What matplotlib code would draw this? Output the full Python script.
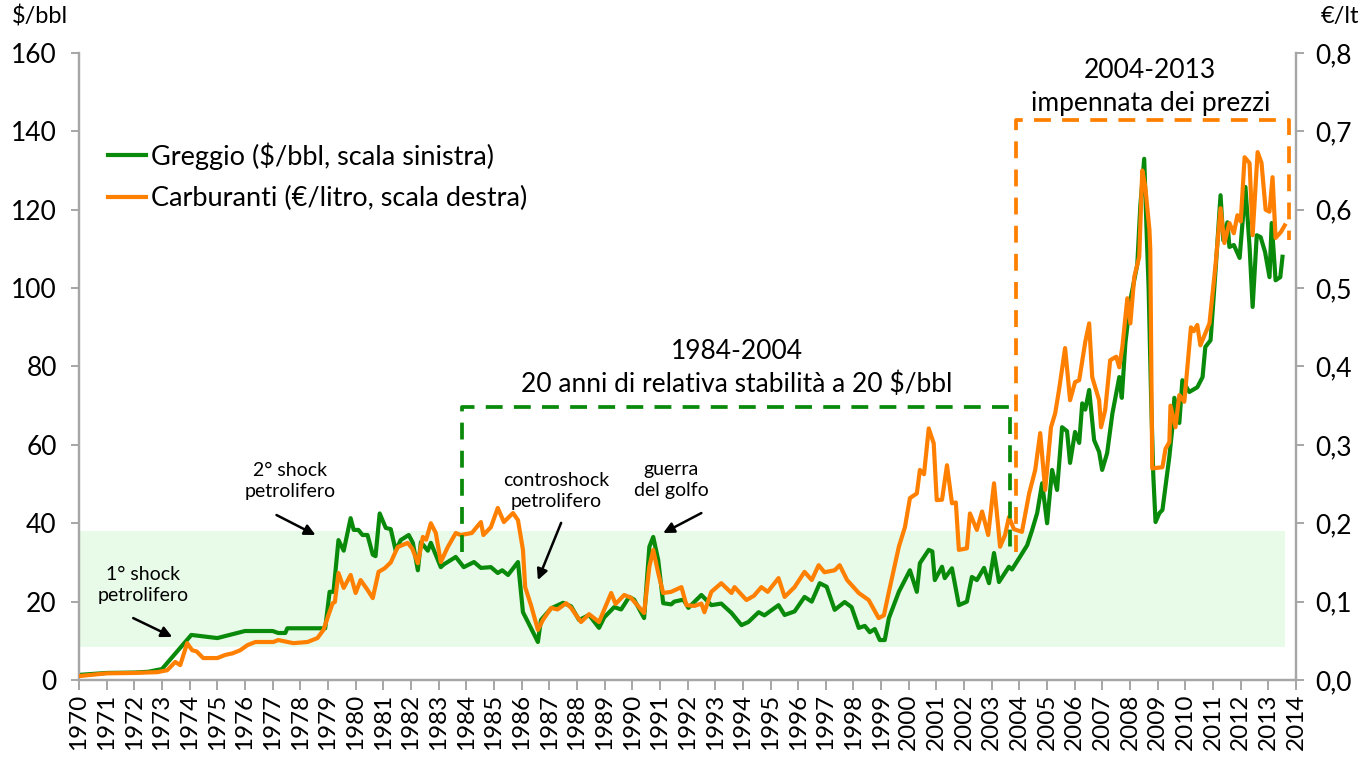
import matplotlib
matplotlib.use("Agg")
import matplotlib.pyplot as plt
from matplotlib.transforms import ScaledTranslation

plt.rcParams["font.family"] = ["Lato", "DejaVu Sans"]

GREEN = "#0a8a0a"
ORANGE = "#ff8000"
GRAY = "#a6a6a6"
BAND = "#e8fae8"

# crude oil, $/bbl (left scale)
greggio_anni = [
    1970.00, 1971.00, 1972.00, 1972.50, 1973.00, 1974.06, 1975.00, 1976.00, 1977.00, 1977.20,
    1977.46, 1977.53, 1978.90, 1979.06, 1979.20, 1979.38, 1979.57, 1979.82, 1979.93, 1980.10,
    1980.25, 1980.43, 1980.62, 1980.72, 1980.87, 1981.09, 1981.27, 1981.45, 1981.63, 1981.92,
    1982.07, 1982.25, 1982.36, 1982.61, 1982.72, 1983.08, 1983.19, 1983.62, 1983.91, 1984.28,
    1984.53, 1984.89, 1985.14, 1985.30, 1985.51, 1985.87, 1986.05, 1986.23, 1986.59, 1986.70,
    1987.07, 1987.50, 1987.79, 1988.08, 1988.44, 1988.80, 1988.99, 1989.35, 1989.60, 1989.89,
    1990.07, 1990.43, 1990.62, 1990.76, 1990.94, 1991.12, 1991.41, 1991.52, 1991.85, 1992.03,
    1992.50, 1992.86, 1993.22, 1993.59, 1993.95, 1994.20, 1994.57, 1994.78, 1995.29, 1995.51,
    1995.87, 1996.23, 1996.49, 1996.78, 1997.03, 1997.32, 1997.68, 1997.93, 1998.19, 1998.41,
    1998.59, 1998.77, 1998.95, 1999.13, 1999.28, 1999.64, 1999.86, 2000.04, 2000.29, 2000.40,
    2000.72, 2000.85, 2000.94, 2001.20, 2001.30, 2001.56, 2001.81, 2002.10, 2002.28, 2002.46,
    2002.72, 2002.90, 2003.08, 2003.26, 2003.62, 2003.73, 2003.99, 2004.28, 2004.46, 2004.64,
    2004.82, 2005.00, 2005.18, 2005.36, 2005.54, 2005.72, 2005.83, 2006.01, 2006.16, 2006.27,
    2006.38, 2006.52, 2006.70, 2006.88, 2006.99, 2007.17, 2007.36, 2007.61, 2007.70, 2007.83,
    2008.01, 2008.26, 2008.37, 2008.51, 2008.59, 2008.67, 2008.76, 2008.84, 2008.92, 2009.06,
    2009.17, 2009.42, 2009.53, 2009.60, 2009.78, 2009.89, 2010.14, 2010.43, 2010.62, 2010.72,
    2010.91, 2011.09, 2011.27, 2011.37, 2011.52, 2011.59, 2011.75, 2011.96, 2012.17, 2012.32,
    2012.43, 2012.58, 2012.72, 2012.88, 2013.04, 2013.12, 2013.26, 2013.43, 2013.51,
]
greggio = [
    1.3, 1.8, 1.9, 2.1, 2.8, 11.5, 10.7, 12.5, 12.5, 12.0,
    12.0, 13.2, 13.2, 22.5, 22.5, 35.7, 33.0, 41.3, 38.3, 38.3,
    37.0, 37.0, 32.0, 31.6, 42.5, 38.8, 38.5, 33.0, 35.7, 37.0,
    35.0, 28.0, 35.2, 33.0, 35.0, 28.8, 29.5, 31.4, 28.8, 30.1,
    28.6, 28.8, 27.3, 28.0, 26.8, 30.1, 17.3, 14.8, 9.7, 15.3,
    18.3, 19.7, 18.8, 15.3, 16.6, 13.3, 16.0, 18.6, 18.0, 21.2,
    20.5, 15.8, 34.0, 36.5, 30.6, 19.6, 19.3, 20.0, 20.5, 18.4,
    21.7, 19.1, 19.5, 17.1, 14.0, 14.8, 17.3, 16.5, 19.1, 16.6,
    17.5, 21.2, 20.0, 24.7, 23.8, 17.9, 19.9, 18.6, 13.3, 13.8,
    12.2, 13.0, 10.2, 10.2, 15.8, 22.5, 25.5, 28.0, 22.5, 29.8,
    33.2, 32.8, 25.5, 28.9, 26.0, 28.5, 19.1, 20.0, 26.3, 25.5,
    28.6, 24.7, 32.4, 25.0, 28.9, 28.2, 31.1, 34.4, 38.3, 42.6,
    50.2, 40.0, 53.6, 48.5, 64.5, 63.5, 55.4, 63.3, 60.5, 70.6,
    69.0, 74.0, 61.2, 58.2, 53.6, 57.9, 68.0, 77.3, 72.0, 86.0,
    97.0, 106.0, 121.0, 133.0, 116.0, 100.0, 72.0, 52.0, 40.3, 42.6,
    43.4, 57.0, 64.5, 72.0, 65.6, 76.5, 73.5, 74.7, 77.3, 85.0,
    86.7, 104.6, 123.7, 112.2, 116.8, 110.5, 111.0, 107.7, 125.8, 110.5,
    95.2, 113.5, 113.0, 109.2, 102.8, 116.6, 102.0, 102.8, 108.0,
]

# fuels, EUR/litre (right scale)
carburanti_anni = [
    1970.00, 1971.00, 1972.00, 1972.83, 1973.19, 1973.48, 1973.66, 1973.91, 1974.09, 1974.25,
    1974.49, 1975.00, 1975.29, 1975.55, 1975.83, 1976.09, 1976.38, 1977.03, 1977.20, 1977.75,
    1978.26, 1978.62, 1978.84, 1979.02, 1979.17, 1979.25, 1979.38, 1979.57, 1979.82, 1980.00,
    1980.18, 1980.43, 1980.62, 1980.83, 1981.05, 1981.27, 1981.52, 1981.88, 1982.05, 1982.25,
    1982.43, 1982.55, 1982.72, 1982.90, 1983.08, 1983.33, 1983.62, 1983.80, 1984.20, 1984.53,
    1984.62, 1984.89, 1985.14, 1985.36, 1985.69, 1985.87, 1986.05, 1986.13, 1986.34, 1986.59,
    1986.77, 1987.07, 1987.30, 1987.61, 1987.79, 1988.15, 1988.44, 1988.80, 1989.24, 1989.40,
    1989.71, 1989.95, 1990.43, 1990.62, 1990.76, 1990.94, 1991.12, 1991.41, 1991.78, 1991.96,
    1992.25, 1992.50, 1992.61, 1992.86, 1993.22, 1993.59, 1993.70, 1994.13, 1994.40, 1994.67,
    1994.90, 1995.29, 1995.51, 1995.87, 1996.23, 1996.49, 1996.74, 1996.95, 1997.32, 1997.50,
    1997.77, 1998.19, 1998.55, 1998.91, 1999.10, 1999.28, 1999.64, 1999.86, 2000.04, 2000.16,
    2000.29, 2000.40, 2000.55, 2000.72, 2000.90, 2001.01, 2001.20, 2001.38, 2001.56, 2001.70,
    2001.81, 2002.10, 2002.21, 2002.46, 2002.65, 2002.87, 2003.08, 2003.30, 2003.48, 2003.62,
    2003.80, 2004.09, 2004.35, 2004.57, 2004.75, 2004.93, 2005.14, 2005.29, 2005.43, 2005.65,
    2005.83, 2006.01, 2006.16, 2006.38, 2006.52, 2006.63, 2006.88, 2006.95, 2007.10, 2007.28,
    2007.50, 2007.61, 2007.72, 2007.90, 2008.01, 2008.15, 2008.33, 2008.44, 2008.55, 2008.70,
    2008.73, 2008.80, 2009.17, 2009.28, 2009.42, 2009.46, 2009.64, 2009.78, 2009.96, 2010.10,
    2010.20, 2010.30, 2010.43, 2010.54, 2010.87, 2011.09, 2011.27, 2011.41, 2011.59, 2011.75,
    2011.88, 2012.00, 2012.14, 2012.32, 2012.43, 2012.61, 2012.75, 2012.90, 2013.04, 2013.15,
    2013.26, 2013.45, 2013.59,
]
carburanti = [
    0.005, 0.0085, 0.009, 0.010, 0.0125, 0.023, 0.019, 0.047, 0.038, 0.0365,
    0.028, 0.028, 0.032, 0.034, 0.038, 0.0445, 0.0485, 0.0485, 0.051, 0.047,
    0.0485, 0.0535, 0.064, 0.083, 0.098, 0.0995, 0.1365, 0.1175, 0.134, 0.111,
    0.1275, 0.115, 0.1045, 0.138, 0.1425, 0.150, 0.1695, 0.175, 0.1675, 0.149,
    0.1825, 0.179, 0.200, 0.1875, 0.1505, 0.1695, 0.1875, 0.185, 0.1875, 0.2015,
    0.185, 0.195, 0.2195, 0.2015, 0.213, 0.204, 0.166, 0.1185, 0.0955, 0.064,
    0.0765, 0.092, 0.090, 0.098, 0.092, 0.074, 0.084, 0.074, 0.111, 0.097,
    0.1085, 0.105, 0.0855, 0.1445, 0.166, 0.1365, 0.111, 0.1125, 0.1185, 0.0955,
    0.0945, 0.0975, 0.0865, 0.1125, 0.1235, 0.111, 0.1185, 0.102, 0.1075, 0.1185,
    0.1125, 0.130, 0.106, 0.1185, 0.138, 0.1275, 0.1465, 0.1375, 0.140, 0.1465,
    0.1275, 0.111, 0.102, 0.079, 0.0825, 0.1125, 0.170, 0.195, 0.232, 0.235,
    0.238, 0.268, 0.2625, 0.321, 0.302, 0.2295, 0.230, 0.274, 0.2255, 0.2265,
    0.166, 0.168, 0.2125, 0.1915, 0.215, 0.185, 0.251, 0.170, 0.185, 0.208,
    0.1925, 0.189, 0.238, 0.268, 0.315, 0.2425, 0.3225, 0.340, 0.370, 0.4235,
    0.357, 0.380, 0.3825, 0.4315, 0.455, 0.3865, 0.357, 0.3225, 0.3445, 0.408,
    0.4125, 0.399, 0.425, 0.487, 0.455, 0.514, 0.540, 0.650, 0.629, 0.574,
    0.5485, 0.270, 0.2715, 0.295, 0.3035, 0.350, 0.3225, 0.3635, 0.355, 0.41,
    0.45, 0.445, 0.453, 0.427, 0.455, 0.53, 0.602, 0.5575, 0.583, 0.57,
    0.593, 0.585, 0.667, 0.6595, 0.5675, 0.6735, 0.66, 0.60, 0.5975, 0.6415,
    0.564, 0.5715, 0.58,
]

anni_asse = list(range(1970, 2015))
tick_sx = [0, 20, 40, 60, 80, 100, 120, 140, 160]
tick_dx = [0.0, 0.1, 0.2, 0.3, 0.4, 0.5, 0.6, 0.7, 0.8]
etichette_dx = ["0,0", "0,1", "0,2", "0,3", "0,4", "0,5", "0,6", "0,7", "0,8"]

# shaded "stability" band, $/bbl
banda_anni = [1970.0, 2013.6]
banda_min, banda_max = 8.5, 38.0

# dashed brackets (years, $/bbl)
stab_x = [1983.85, 1983.85, 2003.66, 2003.66]
stab_y = [32.6, 69.6, 69.6, 32.4]
boom_x = [2003.88, 2003.88, 2013.73, 2013.73]
boom_y = [32.7, 142.9, 142.9, 112.2]

fig = plt.figure(figsize=(13.67, 7.58), dpi=100)
ax = fig.add_axes([0.0578, 0.1029, 0.8903, 0.8272])
ax2 = ax.twinx()

ax.fill_between(banda_anni, banda_min, banda_max, color=BAND, lw=0, zorder=0)
l1, = ax.plot(greggio_anni, greggio, color=GREEN, lw=3, zorder=3,
              label="Greggio ($/bbl, scala sinistra)")
l2, = ax2.plot(carburanti_anni, carburanti, color=ORANGE, lw=3, zorder=3,
               label="Carburanti (€/litro, scala destra)")

ax2.plot(stab_x, stab_y, color=GREEN, lw=2.7, ls=(0, (4.5, 3)),
         transform=ax.transData, zorder=4)
ax2.plot(boom_x, boom_y, color=ORANGE, lw=2.7, ls=(0, (4.5, 3)),
         transform=ax.transData, zorder=4)

ax.set_xlim(1970, 2014)
ax.set_ylim(0, 160)
ax2.set_ylim(0, 0.8)

ax.set_yticks(tick_sx)
ax.set_yticklabels([str(v) for v in tick_sx])
ax2.set_yticks(tick_dx)
ax2.set_yticklabels(etichette_dx)
ax.set_xticks(anni_asse)
ax.set_xticklabels([str(a) for a in anni_asse], rotation=90, va="top")
shift = ScaledTranslation(7 / 100, 0, fig.dpi_scale_trans)
for lab in ax.get_xticklabels():
    lab.set_transform(lab.get_transform() + shift)

for a in (ax, ax2):
    a.spines["top"].set_visible(False)
    for side in ("left", "right", "bottom"):
        a.spines[side].set_color(GRAY)
        a.spines[side].set_linewidth(1.6)
ax.tick_params(axis="y", direction="out", length=6, width=1.4, color=GRAY,
               labelsize=19, pad=10)
ax2.tick_params(axis="y", direction="out", length=6, width=1.4, color=GRAY,
                labelsize=19, pad=8)
ax.tick_params(axis="x", direction="out", length=7, width=1.4, color=GRAY,
               labelsize=17.5, pad=3)

fig.text(40 / 1367, 1 - 16 / 758, "$/bbl", fontsize=17, ha="center", va="center")
fig.text(1340 / 1367, 1 - 16 / 758, "€/lt", fontsize=17, ha="center", va="center")

ax.legend(handles=[l1, l2], loc="upper left", bbox_to_anchor=(0.015, 0.875),
          frameon=False, fontsize=19.5, handlelength=1.4, handletextpad=0.2,
          labelspacing=0.6, borderaxespad=0)

ax.text(2008.73, 155.6, "2004-2013", fontsize=19, ha="center", va="center")
ax.text(2008.73, 147.2, "impennata dei prezzi", fontsize=19, ha="center", va="center")
ax.text(1993.77, 83.7, "1984-2004", fontsize=19, ha="center", va="center")
ax.text(1993.77, 75.5, "20 anni di relativa stabilità a 20 $/bbl", fontsize=19,
        ha="center", va="center")

arrow = dict(arrowstyle="-|>", color="black", lw=1.8, mutation_scale=16,
             shrinkA=0, shrinkB=0)
ax.annotate("", xy=(1973.37, 11.0), xytext=(1971.96, 15.8), arrowprops=arrow)
ax.text(1972.32, 24.2, "1° shock\npetrolifero", fontsize=14, ha="center",
        va="center", linespacing=1.3)
ax.annotate("", xy=(1978.55, 37.0), xytext=(1977.14, 42.1), arrowprops=arrow)
ax.text(1977.64, 50.8, "2° shock\npetrolifero", fontsize=14, ha="center",
        va="center", linespacing=1.3)
ax.annotate("", xy=(1986.59, 25.5), xytext=(1987.43, 40.1), arrowprops=arrow)
ax.text(1987.25, 48.2, "controshock\npetrolifero", fontsize=14, ha="center",
        va="center", linespacing=1.3)
ax.annotate("", xy=(1991.12, 37.5), xytext=(1992.5, 42.6), arrowprops=arrow)
ax.text(1991.41, 51.0, "guerra\ndel golfo", fontsize=14, ha="center",
        va="center", linespacing=1.3)

fig.savefig("out.png", dpi=100)
